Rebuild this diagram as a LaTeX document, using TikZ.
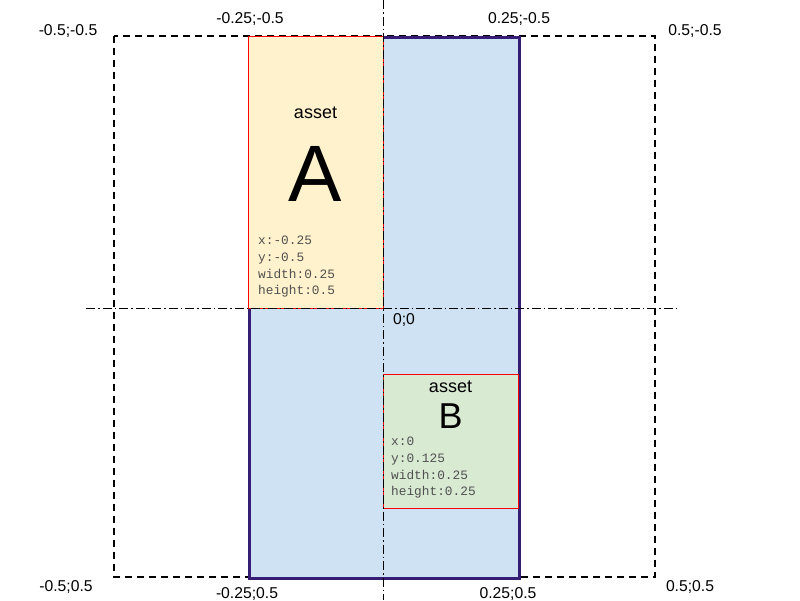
\documentclass[tikz,border=0pt]{standalone}
\usepackage{fontspec}
\setmainfont{Liberation Sans}
\newfontfamily\monofont{Liberation Mono}
\definecolor{navy}{HTML}{351C75}
\definecolor{fillblue}{HTML}{CFE2F3}
\definecolor{fillyellow}{HTML}{FFF2CC}
\definecolor{fillgreen}{HTML}{D9EAD3}
\definecolor{monogray}{HTML}{505050}
\tikzset{
  corner/.style={font=\fontsize{15.7}{18}\selectfont, inner sep=0pt},
  dashbox/.style={draw=black, line width=2pt, dash pattern=on 7pt off 5pt},
  axisline/.style={draw=black, line width=0.8pt, dash pattern=on 9pt off 3pt on 1.5pt off 3pt},
  assetbox/.style={draw=red, line width=1.3pt},
  monotext/.style={font=\monofont\fontsize{12.8}{16.7}\selectfont, text=monogray, align=left, inner sep=0pt, anchor=north west},
}
\begin{document}
\begin{tikzpicture}[x=1pt,y=-1pt]
\useasboundingbox[fill=white] (0,0) rectangle (800,600);
% outer dashed square
\draw[dashbox] (114,36) rectangle (655,577);
% blue rectangle
\node[draw=navy, line width=2.5pt, fill=fillblue, minimum width=270pt, minimum height=541pt, inner sep=0pt, anchor=north west] (blue) at (248,36) {};
% asset A
\node[assetbox, fill=fillyellow, minimum width=135pt, minimum height=272pt, inner sep=0pt, anchor=north west] (assetA) at (248,36) {};
% asset B
\node[assetbox, fill=fillgreen, minimum width=135pt, minimum height=134pt, inner sep=0pt, anchor=north west] (assetB) at (383,374) {};
% axis lines
\coordinate (vtop) at (383,0);
\coordinate (vbot) at (383,600);
\coordinate (hleft) at (86,308);
\coordinate (hright) at (680,308);
\draw[axisline] (vtop) -- (vbot);
\draw[axisline] (hleft) -- (hright);
% texts in A
\node[font=\fontsize{18}{20}\selectfont, inner sep=0pt] (labA1) at (315.5,113) {asset};
\node[font=\fontsize{80}{80}\selectfont, inner sep=0pt] (labA2) at (315.5,174) {A};
\node[monotext] (monoA) at (258,236) {x:-0.25\\y:-0.5\\width:0.25\\height:0.5};
% texts in B
\node[font=\fontsize{18}{20}\selectfont, inner sep=0pt] (labB1) at (450.5,387) {asset};
\node[font=\fontsize{36}{36}\selectfont, inner sep=0pt] (labB2) at (450.5,416) {B};
\node[monotext] (monoB) at (391,437) {x:0\\y:0.125\\width:0.25\\height:0.25};
% corner labels
\node[corner] (c1) at (68,31) {-0.5;-0.5};
\node[corner] (c2) at (250,19) {-0.25;-0.5};
\node[corner] (c3) at (519,19) {0.25;-0.5};
\node[corner] (c4) at (695,31) {0.5;-0.5};
\node[corner] (c5) at (66,587) {-0.5;0.5};
\node[corner] (c6) at (247,594) {-0.25;0.5};
\node[corner] (c7) at (508,594) {0.25;0.5};
\node[corner] (c8) at (690,587) {0.5;0.5};
\node[corner] (c0) at (404,320) {0;0};
\end{tikzpicture}
\end{document}
